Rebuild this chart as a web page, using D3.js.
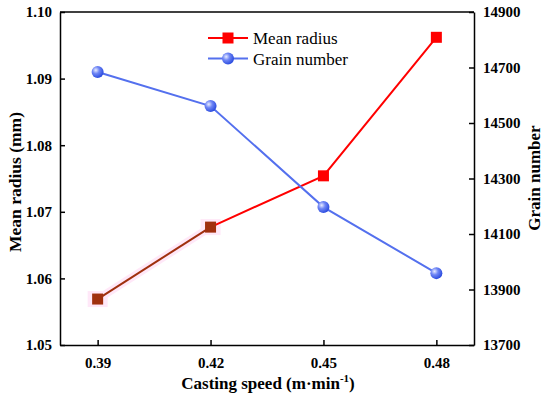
<!DOCTYPE html>
<html>
<head>
<meta charset="utf-8">
<script src="https://cdn.jsdelivr.net/npm/d3@7"></script>
<style>
  body { margin: 0; background: #fff; }
</style>
</head>
<body>
<div id="chart"></div>
<script>
// data
const speeds = [0.39, 0.42, 0.45, 0.48];
const meanRadius = [1.0569, 1.0677, 1.0754, 1.0962];
const grainNumber = [14684, 14561, 14197, 13959];
const xTicks = [0.39, 0.42, 0.45, 0.48];
const leftTicks = [1.05, 1.06, 1.07, 1.08, 1.09, 1.10];
const rightTicks = [13700, 13900, 14100, 14300, 14500, 14700, 14900];

const serif = '"Liberation Serif", "Times New Roman", serif';

const margin = { top: 12, right: 76, bottom: 53, left: 60 };
const width = 550 - margin.left - margin.right;
const height = 398 - margin.top - margin.bottom;

const svg = d3.select("#chart").append("svg")
    .attr("width", 550)
    .attr("height", 398);

const defs = svg.append("defs");
const grad = defs.append("radialGradient")
    .attr("id", "ball")
    .attr("cx", "35%").attr("cy", "35%").attr("r", "65%");
grad.append("stop").attr("offset", "0%").attr("stop-color", "#e8ecff");
grad.append("stop").attr("offset", "45%").attr("stop-color", "#6f86f5");
grad.append("stop").attr("offset", "100%").attr("stop-color", "#2f4fe0");

const g = svg.append("g")
    .attr("transform", `translate(${margin.left},${margin.top})`);

const x = d3.scaleLinear().domain([0.38, 0.49]).range([0, width]);
const yL = d3.scaleLinear().domain([1.05, 1.10]).range([height, 0]);
const yR = d3.scaleLinear().domain([13700, 14900]).range([height, 0]);

// axes, ticks inward
const styleAxis = sel => {
    sel.selectAll("path.domain").attr("stroke", "#000").attr("stroke-width", 1.5);
    sel.selectAll(".tick line").attr("stroke", "#000").attr("stroke-width", 1.5);
    sel.selectAll(".tick text")
        .style("font-family", serif)
        .style("font-weight", "bold")
        .style("font-size", "15px")
        .attr("fill", "#000");
};

g.append("g")
    .attr("transform", `translate(0,${height})`)
    .call(d3.axisBottom(x).tickValues(xTicks).tickFormat(d3.format(".2f"))
        .tickSizeInner(-5).tickSizeOuter(0).tickPadding(12))
    .call(styleAxis);

g.append("g")
    .call(d3.axisLeft(yL).tickValues(leftTicks).tickFormat(d3.format(".2f"))
        .tickSizeInner(-5).tickSizeOuter(0).tickPadding(8))
    .call(styleAxis);

g.append("g")
    .attr("transform", `translate(${width},0)`)
    .call(d3.axisRight(yR).tickValues(rightTicks).tickFormat(d3.format("d"))
        .tickSizeInner(-5).tickSizeOuter(0).tickPadding(9))
    .call(styleAxis);

// top border
g.append("line")
    .attr("x1", 0).attr("x2", width).attr("y1", 0).attr("y2", 0)
    .attr("stroke", "#000").attr("stroke-width", 1.5);

// axis titles
svg.append("text")
    .attr("x", margin.left + width / 2 + 1)
    .attr("y", 389)
    .attr("text-anchor", "middle")
    .style("font-family", serif)
    .style("font-weight", "bold")
    .style("font-size", "17px")
    .html("Casting speed (m·min<tspan dy='-7' style='font-size:11px'>-1</tspan><tspan dy='7'>)</tspan>");

svg.append("text")
    .attr("transform", "translate(21,182) rotate(-90)")
    .attr("text-anchor", "middle")
    .style("font-family", serif)
    .style("font-weight", "bold")
    .style("font-size", "17.5px")
    .text("Mean radius (mm)");

svg.append("text")
    .attr("transform", "translate(540,178) rotate(-90)")
    .attr("text-anchor", "middle")
    .style("font-family", serif)
    .style("font-weight", "bold")
    .style("font-size", "17px")
    .text("Grain number");

const radiusPts = speeds.map((s, i) => [x(s), yL(meanRadius[i])]);
const grainPts = speeds.map((s, i) => [x(s), yR(grainNumber[i])]);
const line = d3.line();

// faint pink halo on the first segment (as in the picture)
g.append("path")
    .attr("d", line(radiusPts.slice(0, 2)))
    .attr("fill", "none")
    .attr("stroke", "#ffe8f8")
    .attr("stroke-width", 8);
g.selectAll(".halo")
    .data(radiusPts.slice(0, 2))
    .enter().append("rect")
    .attr("x", d => d[0] - 10).attr("y", d => d[1] - 8)
    .attr("width", 20).attr("height", 16)
    .attr("fill", "#ffe8f8");

// mean radius line
g.append("path")
    .attr("d", line(radiusPts.slice(1)))
    .attr("fill", "none")
    .attr("stroke", "#ff0000")
    .attr("stroke-width", 2);
g.append("path")
    .attr("d", line(radiusPts.slice(0, 2)))
    .attr("fill", "none")
    .attr("stroke", "#a0300e")
    .attr("stroke-width", 2);

// grain line
g.append("path")
    .attr("d", line(grainPts))
    .attr("fill", "none")
    .attr("stroke", "#5470ee")
    .attr("stroke-width", 2);

g.selectAll(".sq")
    .data(radiusPts)
    .enter().append("rect")
    .attr("x", d => d[0] - 5.5).attr("y", d => d[1] - 5.5)
    .attr("width", 11).attr("height", 11)
    .attr("fill", (d, i) => i < 2 ? "#a0300e" : "#ff0000");

g.selectAll(".ball")
    .data(grainPts)
    .enter().append("circle")
    .attr("cx", d => d[0]).attr("cy", d => d[1])
    .attr("r", 6)
    .attr("fill", "url(#ball)");

// legend
const legend = svg.append("g").attr("transform", "translate(208,38)");
legend.append("line").attr("x1", 0).attr("x2", 40).attr("y1", 0).attr("y2", 0)
    .attr("stroke", "#ff0000").attr("stroke-width", 2);
legend.append("rect").attr("x", 14.5).attr("y", -5.5).attr("width", 11).attr("height", 11)
    .attr("fill", "#ff0000");
legend.append("text").attr("x", 45).attr("y", 5.5)
    .style("font-family", serif).style("font-size", "17px").text("Mean radius");

legend.append("line").attr("x1", 0).attr("x2", 40).attr("y1", 20.5).attr("y2", 20.5)
    .attr("stroke", "#5470ee").attr("stroke-width", 2);
legend.append("circle").attr("cx", 20).attr("cy", 20.5).attr("r", 6).attr("fill", "url(#ball)");
legend.append("text").attr("x", 45).attr("y", 26.5)
    .style("font-family", serif).style("font-size", "17px").text("Grain number");
</script>
</body>
</html>
